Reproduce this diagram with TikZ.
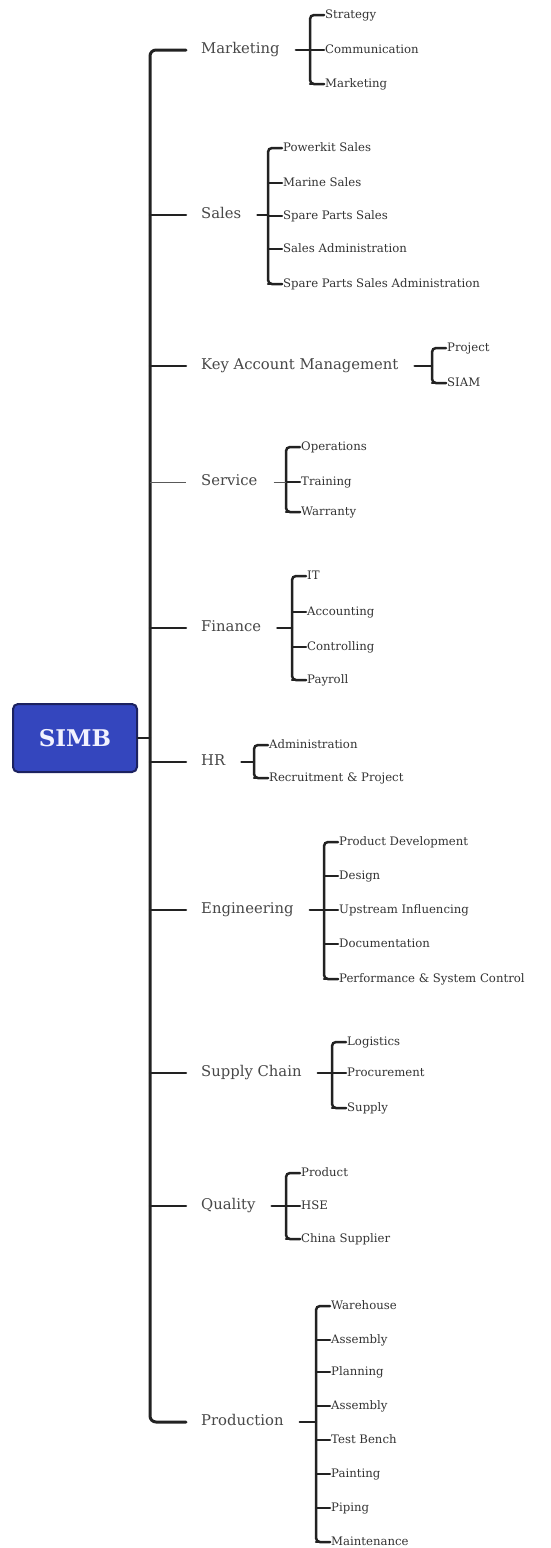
\documentclass[tikz,border=0pt]{standalone}
\usepackage{fontspec}
\setmainfont{DejaVu Serif}
\usetikzlibrary{calc}

\definecolor{boxblue}{RGB}{52,70,190}
\definecolor{boxnavy}{RGB}{28,34,96}
\definecolor{ink}{RGB}{34,34,34}

\begin{document}
\begin{tikzpicture}[x=1pt,y=-1pt,
    dept/.style={anchor=west,inner sep=1pt,text height=0.85em,text depth=0.15em,
        font=\fontsize{14.8}{16}\selectfont,text=black!72},
    sub/.style={anchor=west,inner sep=1pt,text height=0.85em,text depth=0.15em,
        font=\fontsize{11.7}{13}\selectfont,text=black!80},
    link/.style={line width=2.5pt,draw=ink,line cap=round},
    thinlink/.style={line width=0.8pt,draw=black!65}]
    \useasboundingbox (0,0) rectangle (550,1548);

    % root
    \node[draw=boxnavy,fill=boxblue,line width=2pt,rounded corners=5pt,
        minimum width=124pt,minimum height=68pt,text=blue!5,
        font=\fontsize{23}{26}\selectfont\bfseries] (simb) at (75,738) {SIMB};
    \coordinate (trunk) at (150,0);

    % departments
    \node[dept] (mkt) at (200,50) {Marketing};
    \node[dept] (sal) at (200,215) {Sales};
    \node[dept] (kam) at (200,366) {Key Account Management};
    \node[dept] (ser) at (200,482) {Service};
    \node[dept] (fin) at (200,628) {Finance};
    \node[dept] (hr) at (200,762) {HR};
    \node[dept] (eng) at (200,910) {Engineering};
    \node[dept] (sc) at (200,1073) {Supply Chain};
    \node[dept] (qua) at (200,1206) {Quality};
    \node[dept] (prod) at (200,1422) {Production};

    % sub units
    \foreach \y/\t [count=\i] in {15/Strategy,50/Communication,84/Marketing}
        \node[sub] (mkt-\i) at (324,\y) {\t};
    \foreach \y/\t [count=\i] in {148/Powerkit Sales,183/Marine Sales,216/Spare Parts Sales,
            249/Sales Administration,284/Spare Parts Sales Administration}
        \node[sub] (sal-\i) at (282,\y) {\t};
    \foreach \y/\t [count=\i] in {348/Project,383/SIAM}
        \node[sub] (kam-\i) at (446,\y) {\t};
    \foreach \y/\t [count=\i] in {447/Operations,482/Training,512/Warranty}
        \node[sub] (ser-\i) at (300,\y) {\t};
    \foreach \y/\t [count=\i] in {576/IT,612/Accounting,647/Controlling,680/Payroll}
        \node[sub] (fin-\i) at (306,\y) {\t};
    \foreach \y/\t [count=\i] in {745/Administration,778/Recruitment \& Project}
        \node[sub] (hr-\i) at (268,\y) {\t};
    \foreach \y/\t [count=\i] in {842/Product Development,876/Design,910/Upstream Influencing,
            944/Documentation,979/Performance \& System Control}
        \node[sub] (eng-\i) at (338,\y) {\t};
    \foreach \y/\t [count=\i] in {1042/Logistics,1073/Procurement,1108/Supply}
        \node[sub] (sc-\i) at (346,\y) {\t};
    \foreach \y/\t [count=\i] in {1173/Product,1206/HSE,1239/China Supplier}
        \node[sub] (qua-\i) at (300,\y) {\t};
    \foreach \y/\t [count=\i] in {1306/Warehouse,1340/Assembly,1372/Planning,1406/Assembly,
            1440/Test Bench,1474/Painting,1508/Piping,1542/Maintenance}
        \node[sub] (prod-\i) at (330,\y) {\t};

    % trunk
    \draw[link] (simb.east) -- (trunk |- simb.east);
    \draw[link,line width=3pt,rounded corners=6pt] ([xshift=-14]mkt.west) -| (trunk |- prod.west)
        -- ([xshift=-14]prod.west);
    \foreach \n in {sal,kam,fin,hr,eng,sc,qua}
        \draw[link] (trunk |- \n.west) -- ([xshift=-14]\n.west);
    \draw[thinlink] (trunk |- ser.west) -- ([xshift=-14]ser.west);

    % brackets
    \foreach \n/\last in {mkt/3,sal/5,kam/2,ser/3,fin/4,hr/2,eng/5,sc/3,qua/3,prod/8} {
        \draw[link,rounded corners=4pt] (\n-1.west) -- ++(-14,0) |- (\n-\last.west);
        \foreach \i in {2,...,\last}
            \draw[link] (\n-\i.west) -- ++(-14,0);
    }
    \foreach \n in {mkt,sal,kam,fin,hr,eng,sc,qua,prod}
        \draw[link] ([xshift=15]\n.east) -- ($(\n-1.west |- \n.east)+(-14,0)$);
    \draw[thinlink] ([xshift=15]ser.east) -- ($(ser-1.west |- ser.east)+(-14,0)$);
\end{tikzpicture}
\end{document}
